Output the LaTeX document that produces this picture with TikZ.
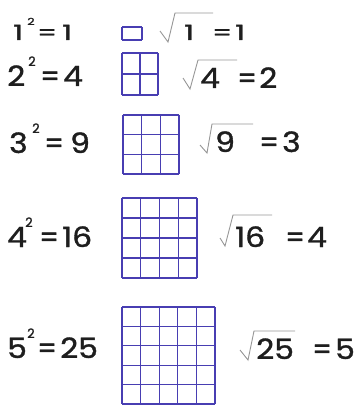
\documentclass[tikz,border=0pt]{standalone}
\usepackage{fontspec}
\usepackage{graphicx}
\setmainfont{Poppins}[FakeBold=1.2]
\usetikzlibrary{positioning}
\definecolor{ink}{RGB}{30,30,30}
\definecolor{gridblue}{RGB}{72,62,178}
\definecolor{rootgray}{RGB}{150,150,150}
\newcommand{\numfont}{\fontsize{28}{30}\selectfont}
\newcommand{\powfont}{\fontsize{13}{14}\selectfont}
\tikzset{
  num/.style={anchor=base west, inner sep=0pt, font=\numfont, text=ink},
  pow/.style={anchor=base west, inner sep=0pt, font=\powfont, text=ink},
  cell/.style={draw=gridblue, line width=1.3pt, line cap=square},
  root/.style={draw=rootgray, line width=0.9pt, line join=miter},
}

\begin{document}
\begin{tikzpicture}[x=1pt, y=-1pt]
  \useasboundingbox (0,0) rectangle (358,406);

  % left column: n^2 = n*n
  \foreach \n/\b/\r/\bx/\px/\ex/\rx/\y/\s in {
      1/1/1/13/27/37/62/40/0.75,
      2/2/4/7/28/40/63/86/1,
      3/3/9/9/32/44/70/153/1,
      4/4/16/7/25/39/62/247/1,
      5/5/25/7/27/37/60/358/1}{
    \node[num] (base\n) at (\bx,\y) {\scalebox{1.12}[\s]{\b}};
    \node[pow] (pow\n) at (\px,\y-20*\s) {\scalebox{1}[\s]{2}};
    \node[num] (eqa\n) at (\ex,\y) {\scalebox{0.98}[\s]{=}};
    \node[num] (sqr\n) at (\rx,\y) {\scalebox{1.12}[\s]{\r}};
  }

  % the squares
  \foreach \n/\xa/\ya/\xb/\yb in {
      1/122/27/142/40,
      2/122/53/158/95,
      3/123/115/179/174,
      4/122/198/197/278,
      5/122/307/215/404}{
    \foreach \i in {0,...,\n}{
      \draw[cell] ({\xa+(\xb-\xa)*\i/\n},\ya) -- ({\xa+(\xb-\xa)*\i/\n},\yb);
      \draw[cell] (\xa,{\ya+(\yb-\ya)*\i/\n}) -- (\xb,{\ya+(\yb-\ya)*\i/\n});
    }
  }

  % right column: square roots
  \foreach \n/\q/\r/\xs/\ys/\xd/\yd/\xt/\yt/\xe/\qx/\ex/\rx/\y/\s in {
      1/1/1/160/31/168/42/175/13/213/184/212/235/40/0.75,
      2/4/2/183/78/190/89/198/60/237/200/237/259/88/1,
      3/9/3/200/145/207/153/212/124/253/215/259/282/152/1,
      4/16/4/220/238/225/246/233/215/272/235/285/307/247/1,
      5/25/5/240/350/248/360/254/331/295/256/312/335/359/1}{
    \coordinate (tick\n) at (\xs,\ys);
    \coordinate (foot\n) at (\xd,\yd);
    \coordinate (top\n) at (\xt,\yt);
    \coordinate (bar\n) at (\xe,\yt);
    \draw[root] (tick\n) -- (foot\n) -- (top\n) -- (bar\n);
    \node[num] (rad\n) at (\qx,\y) {\scalebox{1.12}[\s]{\q}};
    \node[num] (eqb\n) at (\ex,\y) {\scalebox{0.98}[\s]{=}};
    \node[num] (root\n) at (\rx,\y) {\scalebox{1.12}[\s]{\r}};
  }
\end{tikzpicture}
\end{document}
